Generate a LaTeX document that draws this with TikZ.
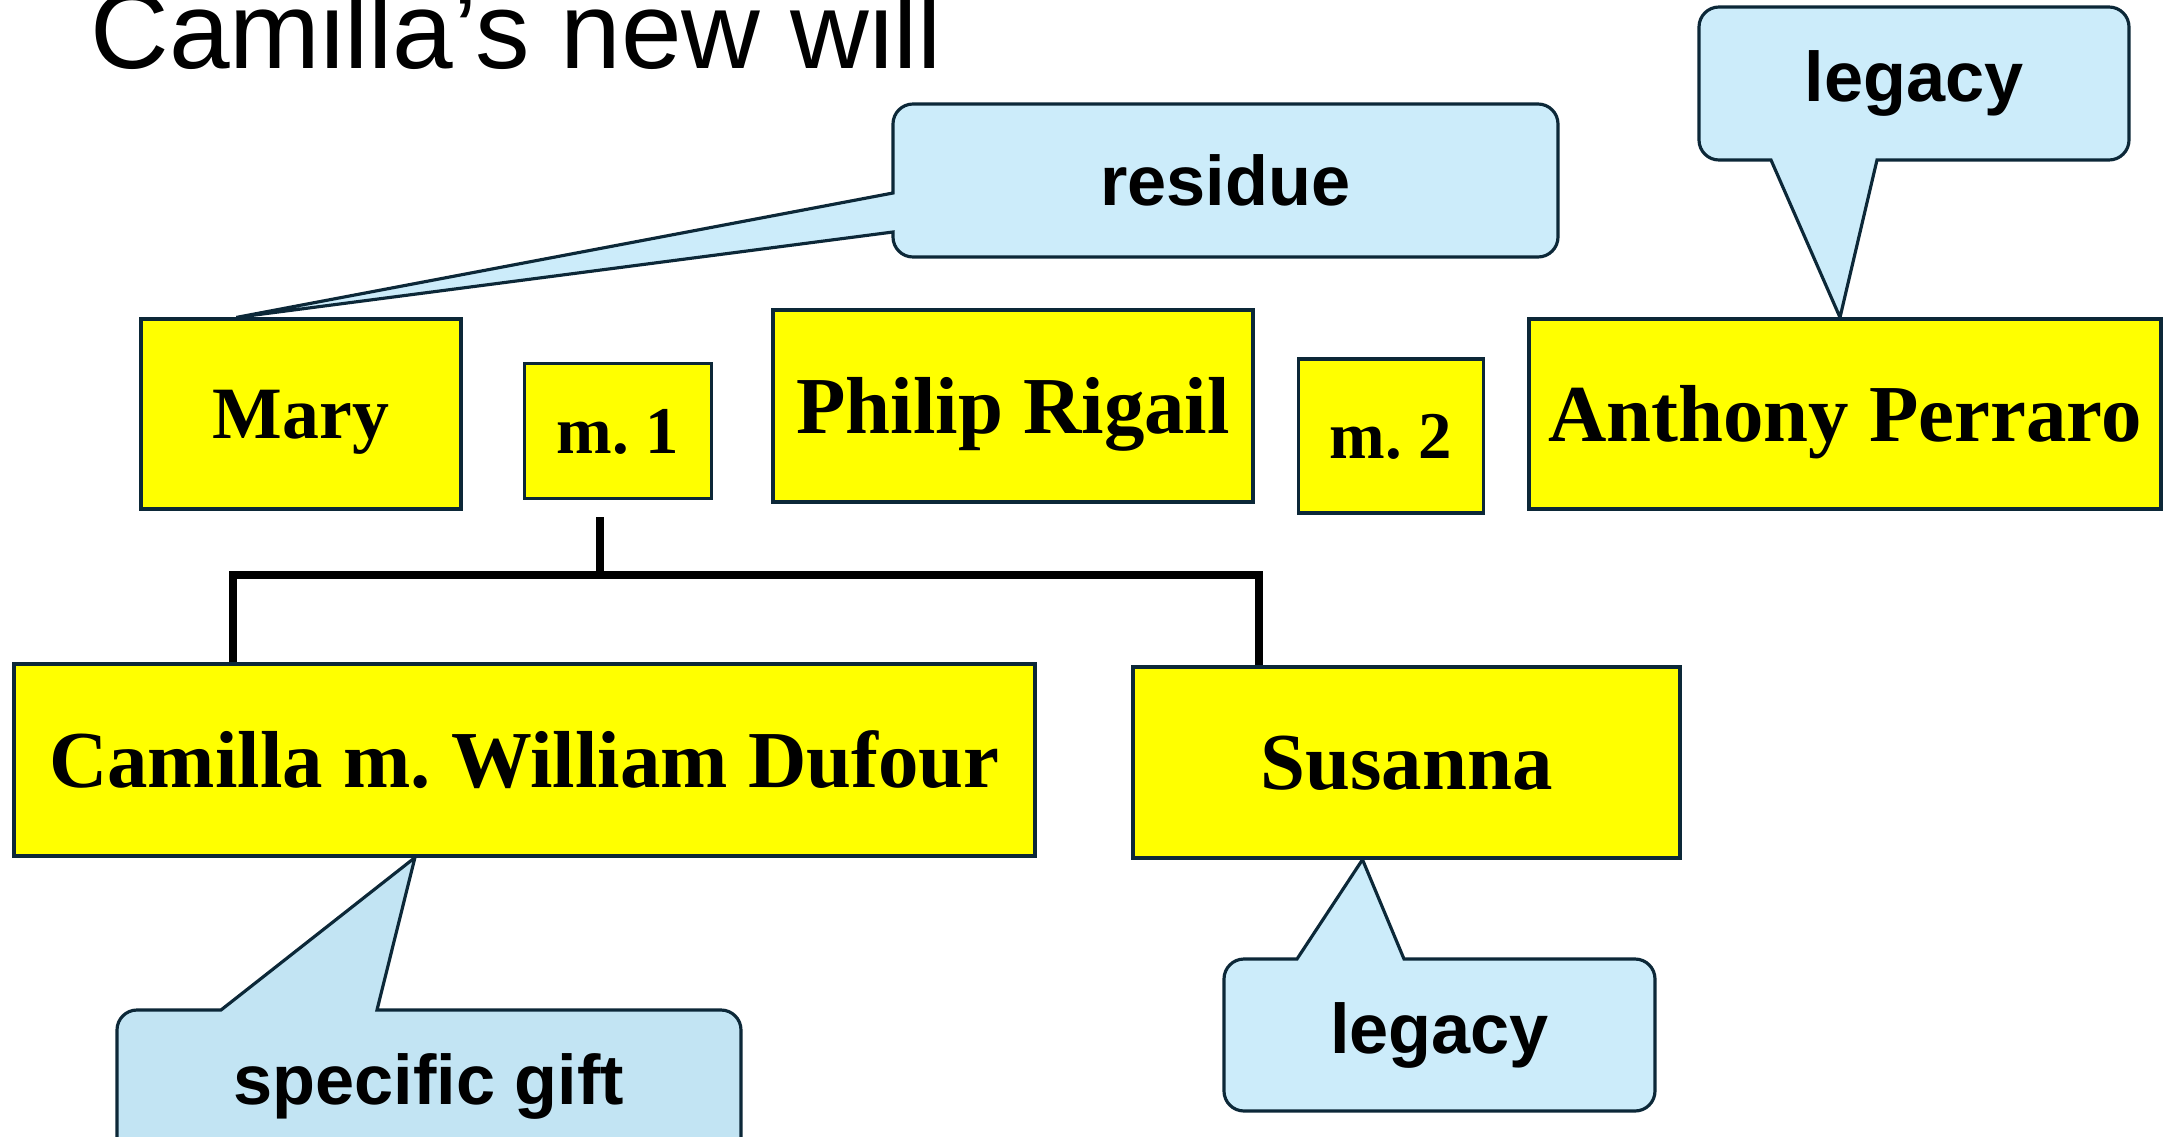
\documentclass[tikz,border=0pt]{standalone}
\usepackage{fontspec}
\setmainfont{Liberation Serif}
\setsansfont{Liberation Sans}
\usetikzlibrary{backgrounds,calc}
\definecolor{edgeblue}{RGB}{12,40,56}
\definecolor{noteblue}{RGB}{204,236,250}
\definecolor{giftblue}{RGB}{194,228,243}
\definecolor{boxyellow}{RGB}{255,255,0}
\frenchspacing

\begin{document}
\begin{tikzpicture}[
		person/.style={draw=edgeblue, fill=boxyellow, line width=0.9pt, inner sep=0pt, font=\bfseries\fontsize{23}{27}\selectfont, text height=0.54cm, text depth=0cm},
		marriage/.style={person, font=\bfseries\fontsize{19}{23}\selectfont, text height=0.45cm},
		note/.style={inner sep=0pt, outer sep=0pt, font=\sffamily\bfseries\fontsize{20}{24}\selectfont},
		bubble/.style={draw=edgeblue, fill=noteblue, line width=0.9pt},
		famline/.style={line width=2.3pt}]
		\useasboundingbox (0, 0) rectangle (21.64, -11.37);
		\draw (0.78, -0.68) node [anchor=base west, font=\sffamily\fontsize{31}{36}\selectfont] (title) {Camilla’s new will};
		% people
		\draw (3.01, -4.14) node [person, minimum width=3.20cm, minimum height=1.90cm, font=\bfseries\fontsize{21}{25}\selectfont, text height=0.49cm] (mary) {Mary};
		\draw (6.18, -4.31) node [marriage, minimum width=1.87cm, minimum height=1.35cm] (mone) {m. 1};
		\draw (10.13, -4.06) node [person, minimum width=4.80cm, minimum height=1.92cm] (philip) {Philip Rigail};
		\draw (13.91, -4.36) node [marriage, minimum width=1.85cm, minimum height=1.54cm] (mtwo) {m. 2};
		\draw (18.45, -4.14) node [person, minimum width=6.32cm, minimum height=1.90cm] (anthony) {Anthony Perraro};
		\draw (5.245, -7.60) node [person, minimum width=10.21cm, minimum height=1.92cm] (camilla) {Camilla m. William Dufour};
		\draw (14.065, -7.625) node [person, minimum width=5.47cm, minimum height=1.91cm] (susanna) {Susanna};
		% children of the first marriage
		\coordinate (bar) at (6.00, -5.75);
		\draw [famline] (bar |- mone.south) ++(0, -0.17) -- (bar);
		\draw [famline] ([xshift=2.21cm]camilla.north west) |- (bar) -| ([xshift=1.28cm]susanna.north west);
		% gifts
		\draw (12.255, -1.805) node [note, minimum width=6.65cm, minimum height=1.53cm] (residue) {residue};
		\draw (19.14, -0.835) node [note, minimum width=4.30cm, minimum height=1.53cm] (legacyA) {legacy};
		\draw (4.29, -10.86) node [note, minimum width=6.24cm, minimum height=1.52cm] (gift) {specific gift};
		\draw (14.395, -10.35) node [note, minimum width=4.31cm, minimum height=1.52cm] (legacyB) {legacy};
		\begin{scope}[on background layer]
			\filldraw [bubble] ($(mary.north west)!0.3!(mary.north east)$) -- ([yshift=-0.89cm]residue.north west)
				-- ([yshift=-0.2cm]residue.north west) arc [start angle=180, end angle=90, radius=0.2]
				-- ([xshift=-0.2cm]residue.north east) arc [start angle=90, end angle=0, radius=0.2]
				-- ([yshift=0.2cm]residue.south east) arc [start angle=0, end angle=-90, radius=0.2]
				-- ([xshift=0.2cm]residue.south west) arc [start angle=270, end angle=180, radius=0.2]
				-- ([yshift=-1.28cm]residue.north west) -- cycle;
			\filldraw [bubble] ([xshift=-0.05cm]anthony.north) -- ([xshift=0.72cm]legacyA.south west)
				-- ([xshift=0.2cm]legacyA.south west) arc [start angle=270, end angle=180, radius=0.2]
				-- ([yshift=-0.2cm]legacyA.north west) arc [start angle=180, end angle=90, radius=0.2]
				-- ([xshift=-0.2cm]legacyA.north east) arc [start angle=90, end angle=0, radius=0.2]
				-- ([yshift=0.2cm]legacyA.south east) arc [start angle=0, end angle=-90, radius=0.2]
				-- ([xshift=1.78cm]legacyA.south west) -- cycle;
			\filldraw [bubble, fill=giftblue] ($(camilla.south west)!0.393!(camilla.south east)$) -- ([xshift=2.60cm]gift.north west)
				-- ([xshift=-0.2cm]gift.north east) arc [start angle=90, end angle=0, radius=0.2]
				-- ([yshift=0.2cm]gift.south east) arc [start angle=0, end angle=-90, radius=0.2]
				-- ([xshift=0.2cm]gift.south west) arc [start angle=270, end angle=180, radius=0.2]
				-- ([yshift=-0.2cm]gift.north west) arc [start angle=180, end angle=90, radius=0.2]
				-- ([xshift=1.04cm]gift.north west) -- cycle;
			\filldraw [bubble] ([xshift=-0.44cm]susanna.south) -- ([xshift=1.80cm]legacyB.north west)
				-- ([xshift=-0.2cm]legacyB.north east) arc [start angle=90, end angle=0, radius=0.2]
				-- ([yshift=0.2cm]legacyB.south east) arc [start angle=0, end angle=-90, radius=0.2]
				-- ([xshift=0.2cm]legacyB.south west) arc [start angle=270, end angle=180, radius=0.2]
				-- ([yshift=-0.2cm]legacyB.north west) arc [start angle=180, end angle=90, radius=0.2]
				-- ([xshift=0.73cm]legacyB.north west) -- cycle;
		\end{scope}
	\end{tikzpicture}
\end{document}
